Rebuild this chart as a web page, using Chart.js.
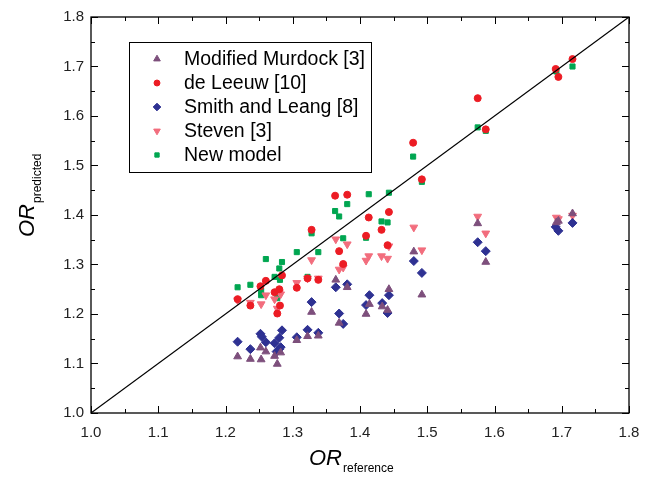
<!DOCTYPE html>
<html>
<head>
<meta charset="utf-8">
<script src="https://cdn.jsdelivr.net/npm/chart.js@4.4.1/dist/chart.umd.min.js"></script>
<style>
  body { margin: 0; background: #fff; }
  #wrap { width: 656px; height: 477px; }
</style>
</head>
<body>
<div id="wrap"><canvas id="chart" width="656" height="477"></canvas></div>
<script>
// values (x = OR reference, y = OR predicted)
const murdockX = [1.218, 1.237, 1.253, 1.252, 1.260, 1.273, 1.277, 1.282, 1.306, 1.322, 1.338, 1.328, 1.364, 1.369, 1.381, 1.414, 1.409, 1.443, 1.433, 1.441, 1.480, 1.492, 1.575, 1.587, 1.692, 1.695, 1.716];
const murdockY = [1.114, 1.109, 1.108, 1.132, 1.124, 1.115, 1.099, 1.122, 1.147, 1.155, 1.156, 1.204, 1.269, 1.182, 1.254, 1.220, 1.200, 1.250, 1.215, 1.208, 1.326, 1.239, 1.383, 1.305, 1.385, 1.388, 1.403];

const leeuwX = [1.218, 1.237, 1.252, 1.260, 1.273, 1.280, 1.281, 1.277, 1.284, 1.306, 1.322, 1.328, 1.338, 1.363, 1.369, 1.375, 1.381, 1.409, 1.413, 1.432, 1.441, 1.443, 1.479, 1.492, 1.575, 1.587, 1.691, 1.695, 1.716];
const leeuwY = [1.230, 1.217, 1.256, 1.267, 1.244, 1.250, 1.217, 1.201, 1.278, 1.253, 1.272, 1.370, 1.269, 1.439, 1.327, 1.301, 1.441, 1.358, 1.395, 1.370, 1.339, 1.406, 1.546, 1.472, 1.636, 1.573, 1.695, 1.679, 1.715];

const smithX = [1.218, 1.237, 1.252, 1.254, 1.260, 1.273, 1.276, 1.280, 1.282, 1.280, 1.284, 1.306, 1.322, 1.328, 1.338, 1.364, 1.369, 1.375, 1.381, 1.409, 1.414, 1.433, 1.441, 1.443, 1.480, 1.492, 1.575, 1.587, 1.691, 1.695, 1.716];
const smithY = [1.144, 1.129, 1.160, 1.154, 1.143, 1.141, 1.124, 1.129, 1.133, 1.152, 1.167, 1.153, 1.168, 1.224, 1.162, 1.254, 1.201, 1.180, 1.260, 1.218, 1.238, 1.222, 1.202, 1.238, 1.307, 1.283, 1.345, 1.327, 1.376, 1.368, 1.384];

const stevenX = [1.218, 1.237, 1.253, 1.260, 1.273, 1.280, 1.282, 1.277, 1.306, 1.322, 1.338, 1.328, 1.364, 1.369, 1.375, 1.381, 1.413, 1.409, 1.443, 1.432, 1.441, 1.480, 1.492, 1.575, 1.587, 1.692, 1.695, 1.716];
const stevenY = [1.228, 1.223, 1.220, 1.238, 1.230, 1.244, 1.240, 1.211, 1.263, 1.272, 1.272, 1.309, 1.351, 1.290, 1.294, 1.341, 1.317, 1.308, 1.337, 1.317, 1.312, 1.375, 1.329, 1.397, 1.363, 1.395, 1.392, 1.399];

const newX = [1.218, 1.237, 1.253, 1.253, 1.260, 1.273, 1.277, 1.280, 1.281, 1.284, 1.306, 1.322, 1.328, 1.338, 1.363, 1.369, 1.375, 1.381, 1.409, 1.413, 1.432, 1.441, 1.443, 1.479, 1.492, 1.575, 1.587, 1.692, 1.716];
const newY = [1.254, 1.259, 1.247, 1.238, 1.311, 1.275, 1.232, 1.292, 1.269, 1.305, 1.325, 1.275, 1.363, 1.325, 1.408, 1.397, 1.353, 1.422, 1.354, 1.442, 1.387, 1.385, 1.445, 1.518, 1.467, 1.577, 1.570, 1.690, 1.700];

const seriesNames = ['Modified Murdock [3]', 'de Leeuw [10]', 'Smith and Leang [8]', 'Steven [3]', 'New model'];
const tickValues = [1.0, 1.1, 1.2, 1.3, 1.4, 1.5, 1.6, 1.7, 1.8];
const tickLabels = ['1.0', '1.1', '1.2', '1.3', '1.4', '1.5', '1.6', '1.7', '1.8'];
const diagonal = [1.0, 1.8];

function pts(xs, ys) {
  return xs.map((x, i) => ({ x: x, y: ys[i] }));
}

const FONT = '"Liberation Sans", Arial, sans-serif';

const frame = {
  id: 'frame',
  afterDraw(chart) {
    const ctx = chart.ctx;
    const a = chart.chartArea;
    const xs = chart.scales.x, ys = chart.scales.y;
    ctx.save();
    ctx.strokeStyle = '#000';
    ctx.lineWidth = 1.3;
    ctx.strokeRect(a.left, a.top, a.right - a.left, a.bottom - a.top);

    // ticks, inward on all four sides
    ctx.lineWidth = 1;
    for (let v = 1.0; v <= 1.8001; v += 0.05) {
      const major = Math.round(v * 100) % 10 === 0;
      const len = major ? 7 : 4;
      const px = Math.round(xs.getPixelForValue(v)) + 0.5;
      const py = Math.round(ys.getPixelForValue(v)) + 0.5;
      ctx.beginPath();
      ctx.moveTo(px, a.bottom); ctx.lineTo(px, a.bottom - len);
      ctx.moveTo(px, a.top); ctx.lineTo(px, a.top + len);
      ctx.moveTo(a.left, py); ctx.lineTo(a.left + len, py);
      ctx.moveTo(a.right, py); ctx.lineTo(a.right - len, py);
      ctx.stroke();
    }

    ctx.fillStyle = '#222';
    ctx.font = '15px ' + FONT;
    tickValues.forEach((v, i) => {
      ctx.textAlign = 'center';
      ctx.textBaseline = 'top';
      ctx.fillText(tickLabels[i], xs.getPixelForValue(v), a.bottom + 12);
      ctx.textAlign = 'right';
      ctx.textBaseline = 'middle';
      ctx.fillText(tickLabels[i], a.left - 7, ys.getPixelForValue(v));
    });

    // axis titles
    ctx.fillStyle = '#000';
    ctx.textAlign = 'left';
    ctx.textBaseline = 'alphabetic';
    ctx.font = 'italic 22px ' + FONT;
    const orW = ctx.measureText('OR').width;
    ctx.fillText('OR', 309, 465);
    ctx.font = '12px ' + FONT;
    ctx.fillText('reference', 309 + orW + 1, 472);

    ctx.translate(34, 237);
    ctx.rotate(-Math.PI / 2);
    ctx.font = 'italic 22px ' + FONT;
    ctx.fillText('OR', 0, 0);
    ctx.font = '12px ' + FONT;
    ctx.fillText('predicted', orW + 1, 7);
    ctx.restore();

    // legend box
    ctx.save();
    ctx.fillStyle = '#fff';
    ctx.fillRect(129, 42, 242, 130);
    ctx.strokeStyle = '#000';
    ctx.lineWidth = 1;
    ctx.strokeRect(129.5, 42.5, 242, 130);
    ctx.font = '19.5px ' + FONT;
    ctx.textBaseline = 'middle';
    ctx.textAlign = 'left';
    chart.data.datasets.slice(0, 5).forEach((ds, i) => {
      const y = 59 + i * 24;
      ctx.fillStyle = ds.backgroundColor;
      ctx.strokeStyle = ds.borderColor;
      ctx.lineWidth = 1;
      Chart.helpers.drawPoint(ctx, {
        pointStyle: ds.pointStyle, radius: ds.pointRadius * 0.85,
        rotation: ds.pointRotation || 0, borderWidth: 1
      }, 157, y);
      ctx.fillStyle = '#000';
      ctx.fillText(ds.label, 184, y + 1);
    });
    ctx.restore();
  }
};

function scatterSet(label, data, color, style, radius, rotation) {
  return {
    type: 'scatter', label: label, data: data,
    backgroundColor: color, borderColor: color, borderWidth: 1,
    pointStyle: style, pointRadius: radius, pointRotation: rotation || 0,
    order: 1
  };
}

new Chart(document.getElementById('chart'), {
  data: {
    datasets: [
      scatterSet(seriesNames[0], pts(murdockX, murdockY), '#7d4f7c', 'triangle', 4.5),
      scatterSet(seriesNames[1], pts(leeuwX, leeuwY), '#ec1c24', 'circle', 3.5),
      scatterSet(seriesNames[2], pts(smithX, smithY), '#2e3192', 'rectRot', 4.5),
      scatterSet(seriesNames[3], pts(stevenX, stevenY), '#f26d7d', 'triangle', 4.5, 180),
      scatterSet(seriesNames[4], pts(newX, newY), '#00a651', 'rect', 3.6),
      {
        type: 'line', label: 'y = x', data: pts(diagonal, diagonal),
        borderColor: '#000', borderWidth: 1.2, pointRadius: 0, fill: false, order: 0
      }
    ]
  },
  options: {
    responsive: false,
    devicePixelRatio: 1,
    animation: false,
    layout: { padding: { left: 91, right: 27, top: 17, bottom: 64 } },
    scales: {
      x: { type: 'linear', min: 1.0, max: 1.8, display: false },
      y: { type: 'linear', min: 1.0, max: 1.8, display: false }
    },
    plugins: { legend: { display: false }, tooltip: { enabled: false } }
  },
  plugins: [frame]
});
</script>
</body>
</html>
